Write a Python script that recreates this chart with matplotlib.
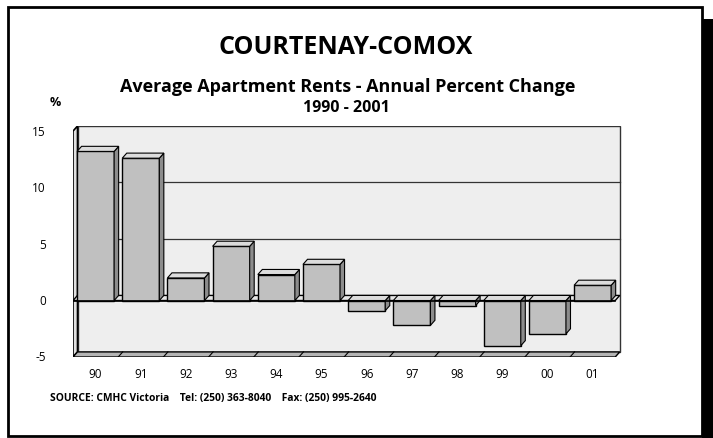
import numpy as np
import matplotlib.pyplot as plt
from matplotlib.patches import Polygon, Rectangle

# data
years = ['90', '91', '92', '93', '94', '95', '96', '97', '98', '99', '00', '01']
pct_change = [13.2, 12.6, 2.0, 4.8, 2.3, 3.2, -0.9, -2.2, -0.45, -4.0, -2.95, 1.35]
yticks = [-5, 0, 5, 10, 15]

W, H = 713, 439
DX, DY = 0.1, 0.45   # 3d depth in data units
bar_w = 0.82
front_c, top_c, side_c = '#c0c0c0', '#dcdcdc', '#8c8c8c'

plt.rcParams['font.family'] = ['Open Sans', 'DejaVu Sans']

fig = plt.figure(figsize=(W / 100, H / 100), dpi=100)

def fx(px):
    return px / W

def fy(py):
    return 1 - py / H

# page frame + shadow
fig.patches.append(Rectangle((fx(702), fy(439)), fx(11), fy(20) - fy(439), transform=fig.transFigure,
                             facecolor='black', edgecolor='none', zorder=-2))
fig.patches.append(Rectangle((fx(8), fy(437)), fx(694), fy(8) - fy(437), transform=fig.transFigure,
                             facecolor='white', edgecolor='black', linewidth=2, zorder=-1))

ax = fig.add_axes([fx(73), fy(358), fx(622) - fx(73), fy(127) - fy(358)])
n = len(years)
ax.set_xlim(0, n + 0.15)
ax.set_ylim(-5, 15 + DY)
ax.axis('off')

# back wall
ax.add_patch(Rectangle((DX, -5 + DY), n, 20, facecolor='#eeeeee', edgecolor='#333333', linewidth=1, zorder=0))
# left side wall
ax.add_patch(Polygon([(0, -5), (DX, -5 + DY), (DX, 15 + DY), (0, 15)], closed=True,
                     facecolor='#e0e0e0', edgecolor='black', linewidth=1.2, zorder=1))
# gridlines on back wall
for v in [5, 10]:
    ax.plot([DX, n + DX], [v + DY, v + DY], color='#333333', linewidth=0.9, zorder=1)

# floor
ax.add_patch(Polygon([(0, -5), (n, -5), (n + DX, -5 + DY), (DX, -5 + DY)], closed=True,
                     facecolor='#b4b4b4', edgecolor='black', linewidth=1, zorder=2))
for i in range(1, n):
    ax.plot([i, i + DX], [-5, -5 + DY], color='black', linewidth=0.8, zorder=2)

# zero plane
ax.add_patch(Polygon([(0, 0), (n, 0), (n + DX, DY), (DX, DY)], closed=True,
                     facecolor='#e6e6e6', edgecolor='black', linewidth=1, zorder=2))

# bars
for i, v in enumerate(pct_change):
    x0 = i + (1 - bar_w) / 2
    x1 = x0 + bar_w
    lo, hi = min(0, v), max(0, v)
    ax.add_patch(Rectangle((x0, lo), bar_w, hi - lo, facecolor=front_c, edgecolor='black', linewidth=1, zorder=4))
    ax.add_patch(Polygon([(x1, lo), (x1 + DX, lo + DY), (x1 + DX, hi + DY), (x1, hi)], closed=True,
                         facecolor=side_c, edgecolor='black', linewidth=0.8, zorder=4))
    ax.add_patch(Polygon([(x0, hi), (x1, hi), (x1 + DX, hi + DY), (x0 + DX, hi + DY)], closed=True,
                         facecolor=top_c, edgecolor='black', linewidth=0.8, zorder=4))

# zero front line
ax.plot([0, n], [0, 0], color='black', linewidth=1.2, zorder=5)

# tick labels
for v in yticks:
    ax.text(-0.6, v, str(v), ha='right', va='center', fontsize=8.5)
for i, lab in enumerate(years):
    ax.text(i + 0.5, -6.45, lab, ha='center', va='center', fontsize=8.5)

# titles
fig.text(fx(346), fy(48), 'COURTENAY-COMOX', ha='center', va='center', fontsize=18, fontweight='bold')
fig.text(fx(348), fy(87), 'Average Apartment Rents - Annual Percent Change', ha='center', va='center',
         fontsize=13, fontweight='bold')
fig.text(fx(346), fy(108), '1990 - 2001', ha='center', va='center', fontsize=11.5, fontweight='bold')
fig.text(fx(55), fy(102), '%', ha='center', va='center', fontsize=9, fontweight='bold')
fig.text(fx(50), fy(399), 'SOURCE: CMHC Victoria    Tel: (250) 363-8040    Fax: (250) 995-2640',
         ha='left', va='center', fontsize=7.4, fontweight='bold')

fig.savefig('out.png', dpi=100)
